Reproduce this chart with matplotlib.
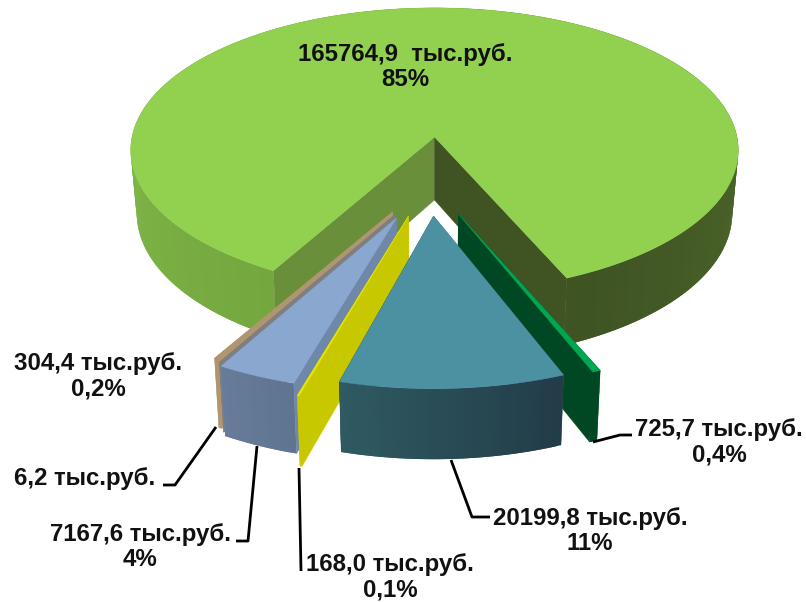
import numpy as np
import matplotlib
matplotlib.use('Agg')
import matplotlib.pyplot as plt
from matplotlib.collections import PolyCollection
from matplotlib.colors import to_rgb
from matplotlib.patches import Polygon

plt.rcParams['font.family'] = ['Liberation Sans', 'DejaVu Sans']

# Values in thousand rubles, clockwise from the start angle
names = ['dark green', 'teal', 'yellow', 'blue', 'grey', 'tan', 'main']
values = [725.7, 20199.8, 168.0, 7167.6, 6.2, 304.4, 165764.9]
labels = ['725,7 тыс.руб.\n0,4%', '20199,8 тыс.руб.\n11%', '168,0 тыс.руб.\n0,1%',
          '7167,6 тыс.руб.\n4%', '6,2 тыс.руб.', '304,4 тыс.руб.\n0,2%',
          '165764,9  тыс.руб.\n85%']

# Where each label sits (pixels)
label_x = [719, 590, 390, 140, 85, 98, 405]
label_y = [442, 531, 577, 547, 478, 376, 67]

# Colours per slice: top, radial wall at the sweep's start, radial wall at its end
top_col = ['#00a650', '#4b91a2', '#e6e600', '#8aa8cf', '#7f7f7f', '#b09670', '#92d050']
wall_start = ['#004823', '#2f5a62', '#c8c800', '#6f87a8', '#7f7f7f', '#b09670', '#6a8f3a']
wall_end = ['#004823', '#223c48', '#c8c800', '#6f87a8', '#7f7f7f', '#b09670', '#3f5323']

# Rim gradient knots per slice, as fractions of the slice's sweep
rim_knots = [([0, 1], ['#004823', '#004823']),
             ([0, 1], ['#223c48', '#2f5a62']),
             ([0, 1], ['#c8c800', '#c8c800']),
             ([0, 1], ['#5f7490', '#667c9a']),
             ([0, 1], ['#7f7f7f', '#7f7f7f']),
             ([0, 1], ['#b09670', '#b09670']),
             ([0, 0.2, 0.8, 1], ['#74a83f', '#80b548', '#4a6429', '#3f5323'])]

# Explosion of each slice on the pie plane (sideways, depth)
explode_x = [0.075, -0.003, -0.082, -0.119, -0.125, -0.132, 0.0]
explode_z = [-0.52, -0.533, -0.533, -0.545, -0.525, -0.507, 0.0]
# Small turn and radius change of the exploded slices
turn = [0, 0.4, 1.0, 0.9, 0.9, 0.9, 0]
radius = [1, 1, 1.08, 1, 1, 1, 1]

start_angle = 156.4

# Camera
cx, cy = 434.5, 137
scale_x, scale_y = 302.5, 141
persp = 0.092


def project(X, Z):
    w = 1 / (1 + persp * Z)
    return cx + scale_x * X * w, cy - scale_y * Z * w


def drop(x, y):
    # top plane point -> matching point on the bottom plane
    return cx + (x - cx) * 0.98, y + 63 + (y - cy) * 0.03


def mix(knots, t):
    pos, cols = knots
    rgb = np.array([to_rgb(c) for c in cols])
    return [np.interp(t, pos, rgb[:, i]) for i in range(3)]


fig = plt.figure(figsize=(8.06, 6.02), dpi=100)
ax = fig.add_axes([0, 0, 1, 1])
ax.set_xlim(0, 806)
ax.set_ylim(602, 0)
ax.axis('off')

sweep = np.array(values) / sum(values) * 360
ends = start_angle + np.cumsum(sweep)
begins = ends - sweep

# back to front
order = [6, 5, 4, 3, 2, 0, 1]
z = 1
for i in order:
    a0 = begins[i] + turn[i]
    a1 = ends[i] + turn[i]
    theta = np.radians(np.linspace(a0, a1, max(2, int(sweep[i]) + 2)))
    ex, ez = explode_x[i], explode_z[i]
    xs, ys = project(ex + radius[i] * np.sin(theta), ez + radius[i] * np.cos(theta))
    bx, by = drop(xs, ys)
    tipx, tipy = project(ex, ez)
    tipbx, tipby = drop(tipx, tipy)

    # the big slice is concave so its walls go over the rim, for the others the rim goes over the walls
    wall_z = z + 1 if sweep[i] > 180 else z
    rim_z = z if sweep[i] > 180 else z + 1

    # rim as small quads that overlap the next one, so no seams show between them
    quads = []
    cols = []
    last = len(theta) - 1
    for k in range(last):
        n = min(k + 2, last)
        quads.append([(xs[k], ys[k]), (xs[k + 1], ys[k + 1]), (xs[n], ys[n]),
                      (bx[n], by[n]), (bx[k + 1], by[k + 1]), (bx[k], by[k])])
        cols.append(mix(rim_knots[i], k / max(1, last - 1)))
    # drawn from the far end for the left half, so each quad covers the overlap of the one before
    ax.add_collection(PolyCollection(quads, facecolors=cols, edgecolors='none', zorder=rim_z))

    # radial walls
    ax.add_patch(Polygon([(tipx, tipy), (xs[0], ys[0]), (bx[0], by[0]), (tipbx, tipby)],
                         fc=wall_start[i], ec=wall_start[i], lw=0.3, zorder=wall_z))
    ax.add_patch(Polygon([(tipx, tipy), (xs[-1], ys[-1]), (bx[-1], by[-1]), (tipbx, tipby)],
                         fc=wall_end[i], ec=wall_end[i], lw=0.3, zorder=wall_z))

    # top face
    ax.add_patch(Polygon(np.vstack([[tipx, tipy], np.column_stack([xs, ys])]),
                         fc=top_col[i], ec=top_col[i], lw=0.3, zorder=z + 2))
    z += 3

# Leader lines
leaders = [([593, 620, 632], [442, 435, 435]),
           ([451, 472, 490], [460, 517, 517]),
           ([299, 301], [468, 571]),
           ([257, 248, 236], [446, 541, 541]),
           ([216, 175, 163], [427, 485, 485])]
for lx, ly in leaders:
    ax.plot(lx, ly, color='black', lw=2.0, solid_capstyle='butt', zorder=z)

for name, text, x, y in zip(names, labels, label_x, label_y):
    ax.text(x, y, text, ha='center', va='center', fontsize=17.3, fontweight='bold',
            color='#111111', linespacing=1.15, zorder=z + 1)

fig.savefig('out.png', dpi=100)
